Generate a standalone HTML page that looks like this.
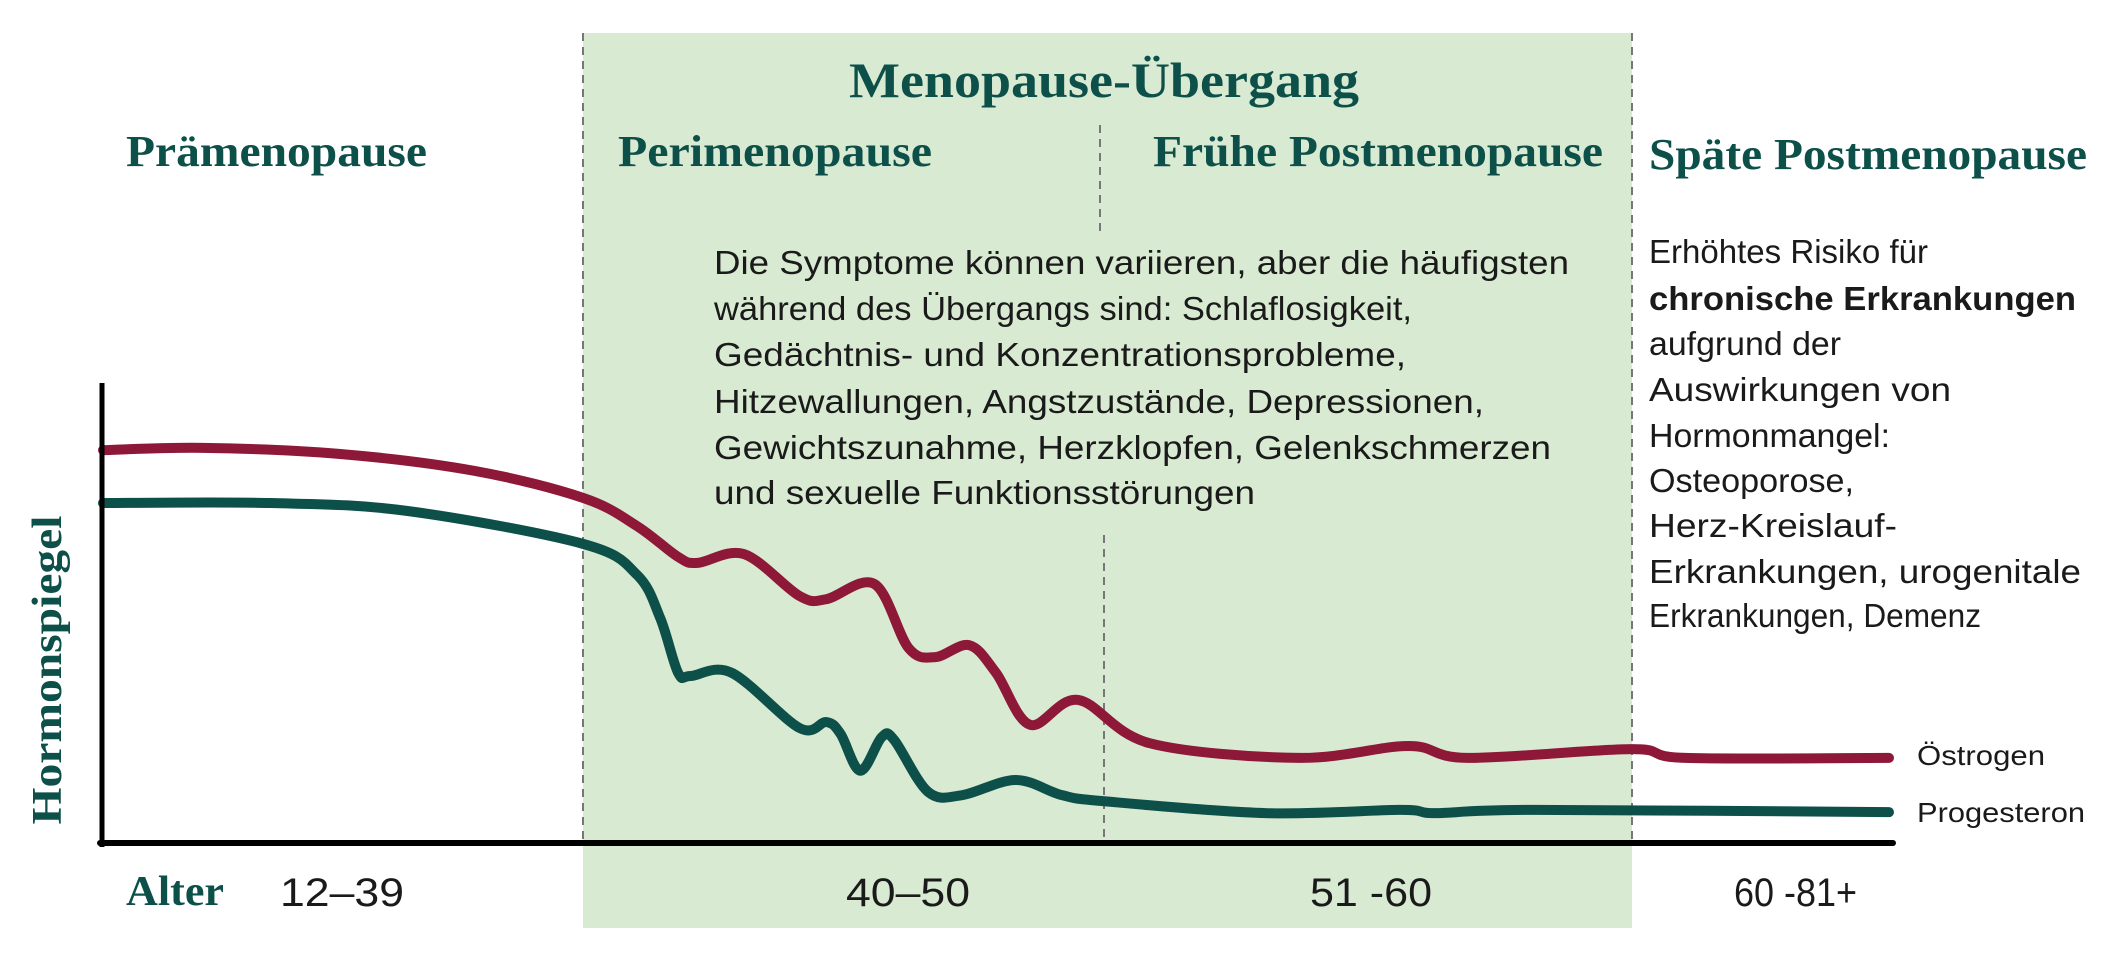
<!DOCTYPE html>
<html><head><meta charset="utf-8"><style>
html,body{margin:0;padding:0;background:#fff;}
svg{display:block;}
.h{font-family:"Liberation Serif",serif;font-weight:bold;fill:#0d5049;}
.b{font-family:"Liberation Sans",sans-serif;fill:#1a1a1a;}
</style></head><body>
<svg id="chart" width="2125" height="959" viewBox="0 0 2125 959">
<rect x="583" y="33" width="1049" height="895" fill="#d9ead3"/>
<g stroke="#777" stroke-width="2" stroke-dasharray="8,6" fill="none">
<line x1="583" y1="33" x2="583" y2="843"/>
<line x1="1632" y1="33" x2="1632" y2="843"/>
<line x1="1100" y1="125" x2="1100" y2="237"/>
<line x1="1104" y1="535" x2="1104" y2="843"/>
</g>
<text class="h" x="1104" y="97" font-size="50" text-anchor="middle" textLength="510" lengthAdjust="spacingAndGlyphs">Menopause-Übergang</text>
<text class="h" x="126" y="166" font-size="44" textLength="301" lengthAdjust="spacingAndGlyphs">Prämenopause</text>
<text class="h" x="618" y="166" font-size="44" textLength="314" lengthAdjust="spacingAndGlyphs">Perimenopause</text>
<text class="h" x="1153" y="166" font-size="44" textLength="450" lengthAdjust="spacingAndGlyphs">Frühe Postmenopause</text>
<text class="h" x="1649" y="169" font-size="44" textLength="438" lengthAdjust="spacingAndGlyphs">Späte Postmenopause</text>
<g class="b" font-size="33">
<text x="714" y="274" textLength="855" lengthAdjust="spacingAndGlyphs">Die Symptome können variieren, aber die häufigsten</text>
<text x="714" y="320" textLength="698" lengthAdjust="spacingAndGlyphs">während des Übergangs sind: Schlaflosigkeit,</text>
<text x="714" y="366" textLength="692" lengthAdjust="spacingAndGlyphs">Gedächtnis- und Konzentrationsprobleme,</text>
<text x="714" y="413" textLength="770" lengthAdjust="spacingAndGlyphs">Hitzewallungen, Angstzustände, Depressionen,</text>
<text x="714" y="459" textLength="837" lengthAdjust="spacingAndGlyphs">Gewichtszunahme, Herzklopfen, Gelenkschmerzen</text>
<text x="714" y="504" textLength="541" lengthAdjust="spacingAndGlyphs">und sexuelle Funktionsstörungen</text>
</g>
<g class="b" font-size="33">
<text x="1649" y="263" textLength="279" lengthAdjust="spacingAndGlyphs">Erhöhtes Risiko für</text>
<text x="1649" y="310" font-weight="bold" textLength="427" lengthAdjust="spacingAndGlyphs">chronische Erkrankungen</text>
<text x="1649" y="355" textLength="192" lengthAdjust="spacingAndGlyphs">aufgrund der</text>
<text x="1649" y="401" textLength="302" lengthAdjust="spacingAndGlyphs">Auswirkungen von</text>
<text x="1649" y="447" textLength="241" lengthAdjust="spacingAndGlyphs">Hormonmangel:</text>
<text x="1649" y="492" textLength="205" lengthAdjust="spacingAndGlyphs">Osteoporose,</text>
<text x="1649" y="537" textLength="248" lengthAdjust="spacingAndGlyphs">Herz-Kreislauf-</text>
<text x="1649" y="583" textLength="432" lengthAdjust="spacingAndGlyphs">Erkrankungen, urogenitale</text>
<text x="1649" y="627" textLength="332" lengthAdjust="spacingAndGlyphs">Erkrankungen, Demenz</text>
</g>
<g id="series"></g>
<line x1="102" y1="383" x2="102" y2="847" stroke="#000" stroke-width="5"/>
<line x1="100" y1="843" x2="1893" y2="843" stroke="#000" stroke-width="6" stroke-linecap="round"/>
<text class="h" x="0" y="0" font-size="42" text-anchor="middle" transform="translate(61,670) rotate(-90)" textLength="309" lengthAdjust="spacingAndGlyphs">Hormonspiegel</text>
<text class="h" x="126" y="905" font-size="42" textLength="98" lengthAdjust="spacingAndGlyphs">Alter</text>
<g class="b" font-size="40">
<text x="280" y="906" textLength="124" lengthAdjust="spacingAndGlyphs">12–39</text>
<text x="846" y="906" textLength="124" lengthAdjust="spacingAndGlyphs">40–50</text>
<text x="1310" y="906" textLength="122" lengthAdjust="spacingAndGlyphs">51 -60</text>
<text x="1734" y="906" textLength="123" lengthAdjust="spacingAndGlyphs">60 -81+</text>
</g>
<text class="b" x="1917" y="765" font-size="28" textLength="128" lengthAdjust="spacingAndGlyphs">Östrogen</text>
<text class="b" x="1917" y="822" font-size="28" textLength="168" lengthAdjust="spacingAndGlyphs">Progesteron</text>
</svg>
<script>
const estrogenT = [0,5.6,13.2,20.8,26.9,29.9,32.2,33.3,35.9,39.0,40.5,43.2,45.1,46.6,48.5,50.0,51.9,54.6,58.6,67.0,73.1,76.4,85.6,88.6,100];
const estrogenLevel = [85.4,85.9,84.6,80.9,75.0,68.9,62.2,60.9,62.8,53.7,53.0,56.3,42.4,40.4,43.0,37.0,25.7,31.1,21.7,18.5,21.1,18.5,20.4,18.5,18.5];
const progesteronT = [0,9.4,17.0,26.9,29.9,31.2,32.2,32.9,35.2,39.0,40.5,41.3,42.4,43.6,44.3,46.2,48.1,51.1,53.7,56.0,65.1,72.7,74.6,80.2,100];
const progesteronLevel = [73.9,73.9,72.2,65.0,58.3,48.9,37.0,36.3,37.0,25.0,26.3,23.7,15.7,23.0,22.4,11.1,10.4,13.7,10.4,9.1,6.5,7.2,6.5,7.2,6.7];
function xScale(t){return 103 + t/100*(1889-103);}
function yScale(v){return 843 - v/100*460;}
function pathFor(ts, vs){
  const p = ts.map((t,i)=>[xScale(t), yScale(vs[i])]);
  let d = 'M'+p[0][0]+','+p[0][1];
  for(let i=0;i<p.length-1;i++){
    const p0=p[i-1]||p[i], p1=p[i], p2=p[i+1], p3=p[i+2]||p2;
    const c1=[p1[0]+(p2[0]-p0[0])/6, p1[1]+(p2[1]-p0[1])/6];
    const c2=[p2[0]-(p3[0]-p1[0])/6, p2[1]-(p3[1]-p1[1])/6];
    d+=' C'+c1[0]+','+c1[1]+' '+c2[0]+','+c2[1]+' '+p2[0]+','+p2[1];
  }
  return d;
}
const g = document.getElementById('series');
const ns='http://www.w3.org/2000/svg';
const e = document.createElementNS(ns,'path');
e.setAttribute('d', pathFor(estrogenT, estrogenLevel));
e.setAttribute('fill','none');e.setAttribute('stroke','#8e1838');e.setAttribute('stroke-width','10');e.setAttribute('stroke-linecap','round');e.setAttribute('stroke-linejoin','round');


g.appendChild(e);
const pr = document.createElementNS(ns,'path');
pr.setAttribute('d', pathFor(progesteronT, progesteronLevel));
pr.setAttribute('fill','none');pr.setAttribute('stroke','#0d5049');pr.setAttribute('stroke-width','10');pr.setAttribute('stroke-linecap','round');pr.setAttribute('stroke-linejoin','round');


g.appendChild(pr);
</script>
</body></html>
